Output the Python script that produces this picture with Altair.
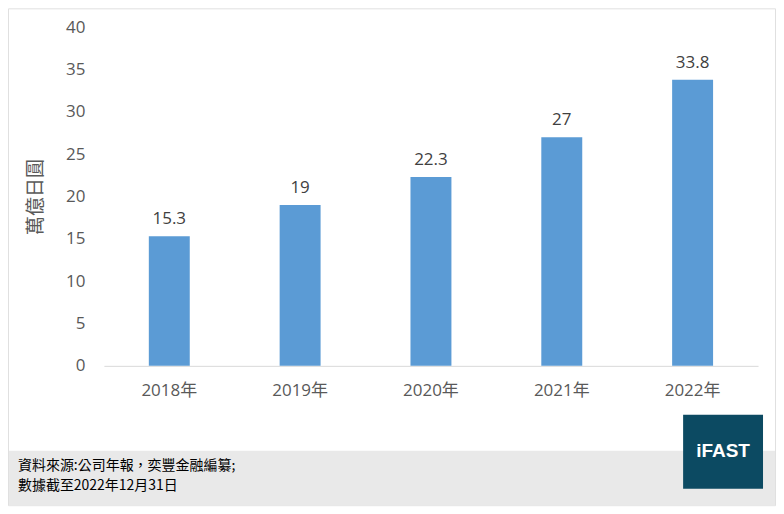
import altair as alt
import pandas as pd

years = ["2018年", "2019年", "2020年", "2021年", "2022年"]
values = [15.3, 19, 22.3, 27, 33.8]
labels = ["15.3", "19", "22.3", "27", "33.8"]
y_ticks = [0, 5, 10, 15, 20, 25, 30, 35, 40]
y_title = "萬億日圓"
footer_lines = ["資料來源:公司年報，奕豐金融編纂;", "數據截至2022年12月31日"]
logo_text = "iFAST"

df = pd.DataFrame({"year": years, "value": values, "label": labels})
one = pd.DataFrame({"k": [0]})

FONT = "Open Sans, Noto Sans CJK TC, sans-serif"
CJK = "Noto Sans CJK TC, sans-serif"

x_enc = alt.X("year:N", sort=years, title=None,
              scale=alt.Scale(paddingInner=0, paddingOuter=0),
              axis=alt.Axis(labelAngle=0, ticks=False, domain=True, domainColor="#D9D9D9",
                            domainWidth=1, labelFont=FONT, labelFontSize=17,
                            labelColor="#595959", labelPadding=17, grid=False))
y_enc = alt.Y("value:Q", title=y_title,
              scale=alt.Scale(domain=[0, 40], nice=False),
              axis=alt.Axis(values=y_ticks, ticks=False, domain=False, grid=False,
                            labelFont=FONT, labelFontSize=17, labelColor="#595959",
                            labelPadding=19, titleFont=CJK, titleFontSize=19,
                            titleFontWeight="normal", titleColor="#595959",
                            titlePadding=20))

bars = alt.Chart(df).mark_bar(size=41, color="#5B9BD5").encode(x=x_enc, y=y_enc)
texts = alt.Chart(df).mark_text(dy=-8, baseline="bottom", font=FONT, fontSize=17,
                                color="#404040").encode(
    x=alt.X("year:N", sort=years), y="value:Q", text="label:N")

frame = alt.Chart(one).mark_rect(fillOpacity=0, stroke="#E0E0E0", strokeWidth=1).encode(
    x=alt.value(-95.5), x2=alt.value(672.5), y=alt.value(-18.5), y2=alt.value(479))
band = alt.Chart(one).mark_rect(color="#E9E9E9").encode(
    x=alt.value(-95), x2=alt.value(672), y=alt.value(424), y2=alt.value(479))
logo = alt.Chart(one).mark_rect(color="#0C4A62").encode(
    x=alt.value(580), x2=alt.value(660), y=alt.value(388), y2=alt.value(462))
logo_t = alt.Chart(one).mark_text(text=logo_text, color="white", font="Liberation Sans, Arial",
                                  fontWeight="bold", fontSize=19, align="center",
                                  baseline="middle").encode(
    x=alt.value(620), y=alt.value(424))
foot = alt.Chart(one).mark_text(text=footer_lines, color="#000000", font=CJK,
                                fontSize=14, lineHeight=20, align="left",
                                baseline="middle").encode(
    x=alt.value(-86), y=alt.value(439))

chart = alt.layer(frame, band, bars, texts, logo, logo_t, foot).properties(
    width=655, height=339,
    autosize=alt.AutoSizeParams(type="none"),
    padding={"left": 96, "top": 19, "right": 18, "bottom": 142},
    background="white",
).configure_view(stroke=None)

chart.save("out.html", embed_options={"renderer": "svg", "actions": False})
